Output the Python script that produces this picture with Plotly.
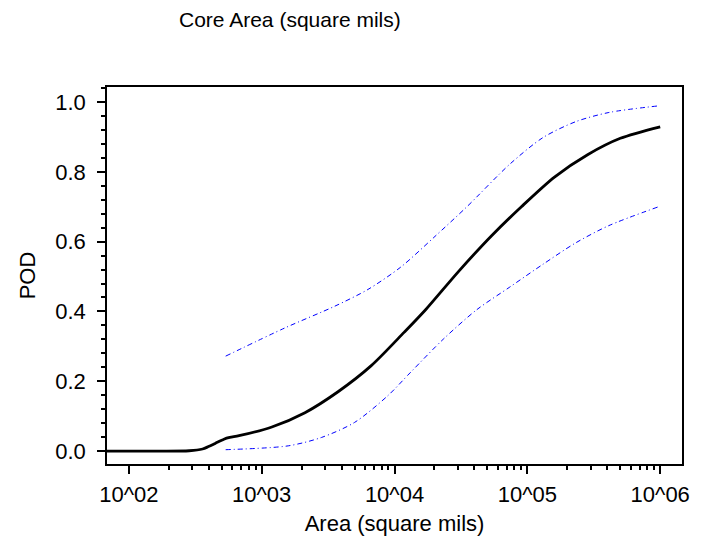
import plotly.graph_objects as go

# POD curve (black)
pod_area = [68.5, 158, 285, 359, 398, 447, 520, 575, 676, 1194, 2118, 3758, 6653,
            11800, 17140, 30400, 53800, 90200, 160000, 284000, 501000, 1000000]
pod_vals = [0.0, 0.0, 0.001, 0.006, 0.013, 0.022, 0.034, 0.039, 0.044, 0.069, 0.11,
            0.17, 0.244, 0.34, 0.405, 0.515, 0.617, 0.70, 0.785, 0.849, 0.896, 0.929]

# Upper confidence bound (blue dash-dot)
upper_area = [536, 1500, 3550, 6310, 11140, 19770, 35080, 73800, 130900, 232300, 411100, 973000]
upper_vals = [0.272, 0.353, 0.415, 0.463, 0.527, 0.612, 0.70, 0.822, 0.898, 0.944, 0.970, 0.989]

# Lower confidence bound (blue dash-dot)
lower_area = [536, 1585, 2820, 5000, 8870, 13240, 23500, 41600, 73800, 130900, 232300, 411100, 973000]
lower_vals = [0.004, 0.015, 0.039, 0.082, 0.158, 0.226, 0.322, 0.405, 0.47, 0.535, 0.597, 0.646, 0.70]

x_tickvals = [100, 1000, 10000, 100000, 1000000]
x_ticktext = ["10^02", "10^03", "10^04", "10^05", "10^06"]
x_minorvals = [m * d for d in [100, 1000, 10000, 100000] for m in range(2, 10)]

FONT = "Liberation Sans, Arial, sans-serif"
W, H = 702, 544
L, R, T, B = 107, 15, 87, 79

fig = go.Figure()
dash = "5px,3px,1px,3px"
fig.add_trace(go.Scatter(x=upper_area, y=upper_vals, mode="lines",
                         line=dict(color="#0000ff", width=1, dash=dash, shape="spline", smoothing=0.8),
                         showlegend=False, hoverinfo="skip"))
fig.add_trace(go.Scatter(x=lower_area, y=lower_vals, mode="lines",
                         line=dict(color="#0000ff", width=1, dash=dash, shape="spline", smoothing=0.8),
                         showlegend=False, hoverinfo="skip"))
fig.add_trace(go.Scatter(x=pod_area, y=pod_vals, mode="lines",
                         line=dict(color="black", width=2.8, shape="spline", smoothing=0.8),
                         showlegend=False, hoverinfo="skip"))

fig.update_layout(
    width=W, height=H,
    margin=dict(l=L, r=R, t=T, b=B, pad=0),
    paper_bgcolor="white", plot_bgcolor="white",
    font=dict(family=FONT, size=21, color="black"),
    annotations=[dict(text="Core Area (square mils)", x=(178 - L) / (W - L - R), y=1 + (T - 19) / (H - T - B),
                      xref="paper", yref="paper", xanchor="left", yanchor="middle",
                      showarrow=False, font=dict(family=FONT, size=21, color="black"))],
)
fig.update_xaxes(
    type="log", range=[1.836, 6.164],
    tickvals=x_tickvals, ticktext=x_ticktext, tickfont=dict(size=22),
    ticks="outside", ticklen=8, tickwidth=2, tickcolor="black",
    minor=dict(ticks="outside", ticklen=4, tickwidth=1.5, tickcolor="black", tickvals=x_minorvals, showgrid=False),
    showline=True, linecolor="black", linewidth=1.5, mirror=True,
    showgrid=False, zeroline=False,
    ticklabelstandoff=2,
    title=dict(text="Area (square mils)", standoff=9, font=dict(size=22)),
)
fig.update_yaxes(
    range=[-0.037, 1.043], dtick=0.2, tick0=0, tickformat=".1f", tickfont=dict(size=22),
    ticks="outside", ticklen=8, tickwidth=2, tickcolor="black",
    minor=dict(ticks="outside", ticklen=4, tickwidth=1.5, tickcolor="black", dtick=0.04, showgrid=False),
    showline=True, linecolor="black", linewidth=1.5, mirror=True,
    showgrid=False, zeroline=False,
    ticklabelstandoff=7,
    title=dict(text="POD", standoff=14, font=dict(size=22)),
)

fig.write_html("out.html")
